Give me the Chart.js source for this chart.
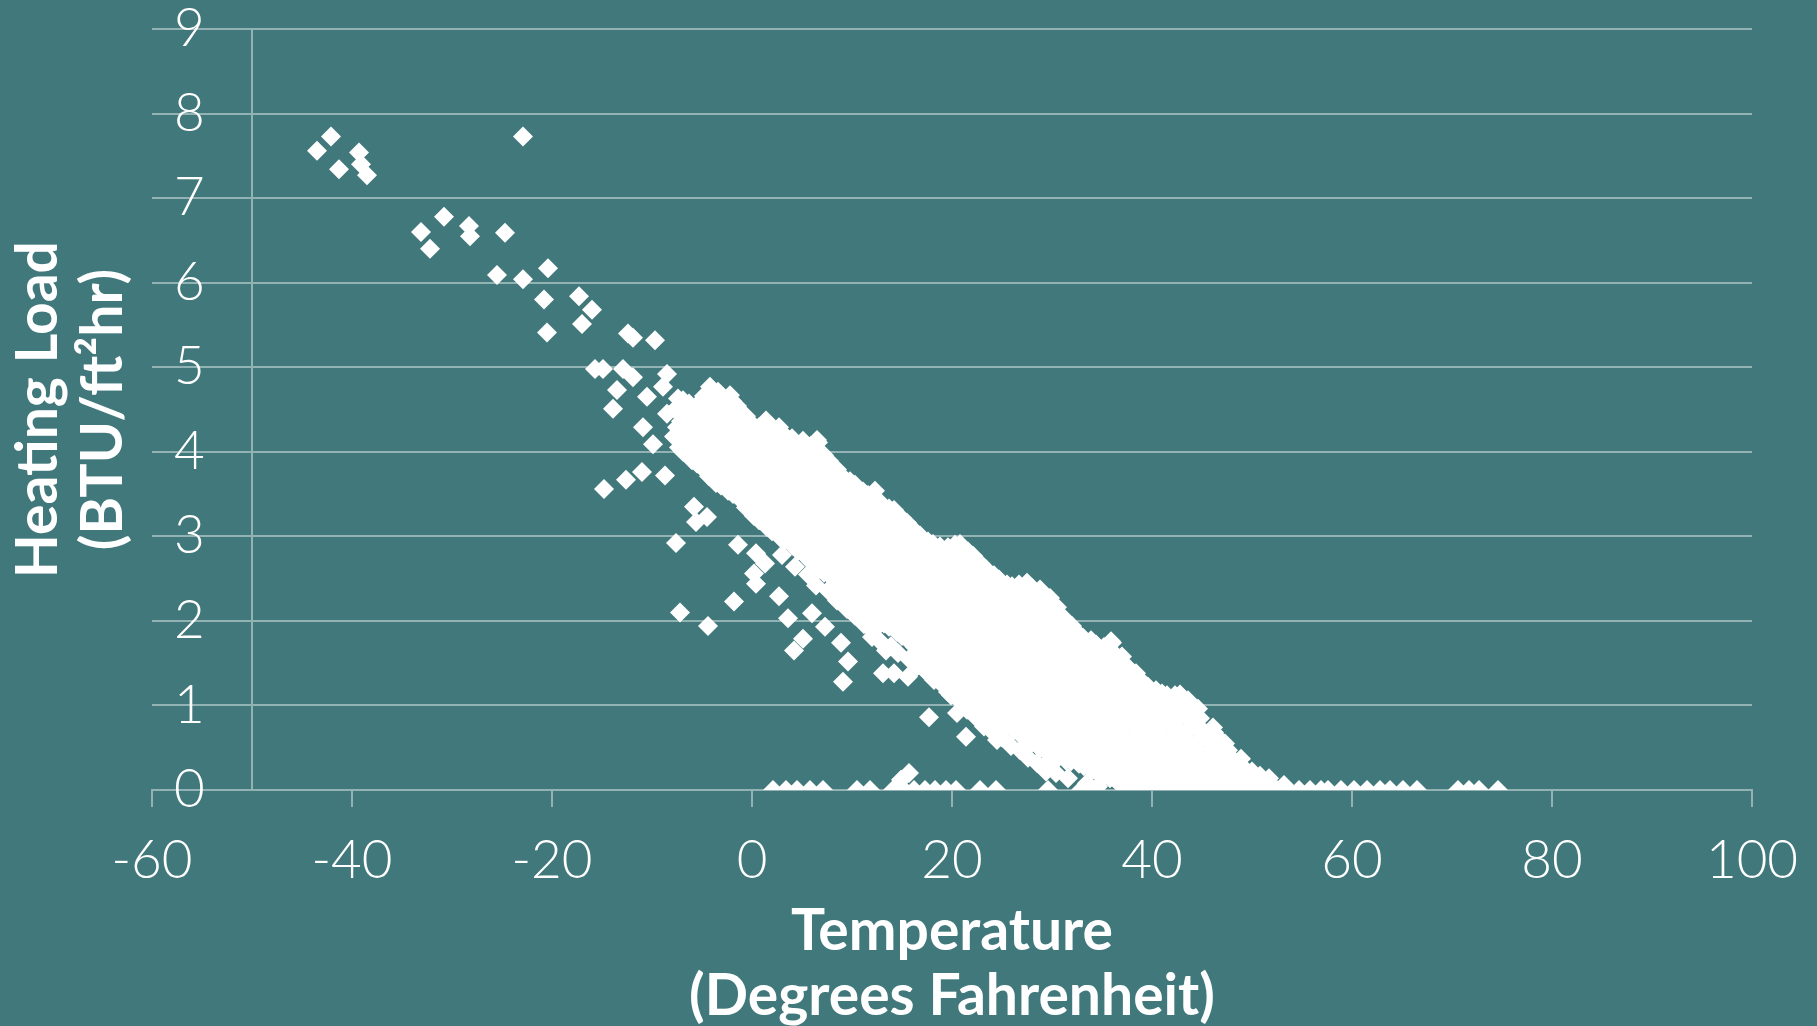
<!DOCTYPE html>
<html><head><meta charset="utf-8">
<script src="https://cdn.jsdelivr.net/npm/chart.js@4.4.0/dist/chart.umd.min.js"></script>
<style>
html,body{margin:0;padding:0;background:#41787B;overflow:hidden;}
#wrap{position:relative;width:1817px;height:1026px;}
canvas{display:block;}
</style></head><body>
<div id="wrap"><canvas id="c" width="1817" height="1026"></canvas></div>
<script>
const xTickValues = [-60,-40,-20,0,20,40,60,80,100];
const yTickValues = [0,1,2,3,4,5,6,7,8,9];
const xTitleLines = ['Temperature','(Degrees Fahrenheit)'];
const yTitleLines = ['Heating Load','(BTU/ft²hr)'];

// [temperature °F, heating load BTU/ft²hr] — scattered points
const outlierPoints = [
[-42.1,7.73],[-43.5,7.56],[-39.3,7.54],[-41.3,7.34],[-39.1,7.40],[-38.5,7.27],[-22.9,7.73],
[-30.8,6.78],[-33.1,6.60],[-32.2,6.40],[-28.3,6.67],[-28.2,6.55],[-24.7,6.59],
[-25.5,6.09],[-22.9,6.04],[-20.4,6.17],[-20.8,5.80],[-20.5,5.41],[-17.3,5.84],[-16.0,5.68],[-17.0,5.51],
[-12.4,5.40],[-11.9,5.35],[-9.7,5.32],[-15.7,4.98],[-14.9,4.98],[-12.9,4.98],[-11.9,4.88],[-8.5,4.92],
[-13.5,4.73],[-13.9,4.51],[-10.5,4.65],[-8.9,4.77],[-10.9,4.29],[-9.9,4.09],[-6.9,4.61],[-8.5,4.45],[-7.5,4.29],[-4.2,4.77],[-4.9,4.49],[-6.9,4.06],
[-12.6,3.67],[-11.0,3.76],[-8.7,3.72],[-14.8,3.56],[-7.6,2.92],[-7.2,2.10],[-4.4,1.94],[-1.8,2.23],
[-5.8,3.35],[-4.5,3.23],[-5.6,3.17],[-1.4,2.90],[0.4,2.80],[1.3,2.68],[0.2,2.56],[0.4,2.44],[2.7,2.29],[3.6,2.03],
[4.2,1.65],[6.0,2.09],[5.1,1.79],[7.3,1.93],[8.9,1.74],[9.6,1.52],[9.1,1.28],[12.0,1.81],[13.4,1.65],[13.1,1.38],[14.2,1.38],
[15.6,1.34],[16.9,1.68],[17.7,0.86],[19.6,1.16],[20.5,0.91],[21.4,0.63],[23.2,0.75],[24.5,0.59],[29.4,0.31],[30.1,0.32],
[12.3,3.54],[1.4,4.35],[6.5,4.14]
];

// dense band of readings (first pass)
const bandPoints = [
[-7.3,4.05],[-7.8,4.18],[-7.1,4.36],[-7.7,4.5],[-7.4,4.63],
[-6.0,3.9],[-6.5,4.03],[-6.1,4.19],[-6.4,4.31],[-5.9,4.44],[-6.3,4.57],
[-4.8,3.79],[-5.2,3.94],[-4.9,4.11],[-5.3,4.22],[-4.7,4.37],[-5.1,4.53],[-4.8,4.66],
[-3.6,3.63],[-4.0,3.76],[-3.7,3.89],[-3.9,4.04],[-3.5,4.18],[-4.1,4.31],[-3.7,4.45],[-3.9,4.6],[-3.4,4.71],
[-2.4,3.54],[-2.8,3.69],[-2.5,3.83],[-2.7,3.95],[-2.3,4.11],[-2.9,4.24],[-2.5,4.39],[-2.6,4.56],[-2.2,4.67],
[-1.1,3.43],[-1.5,3.57],[-1.2,3.69],[-1.4,3.86],[-1.0,3.99],[-1.6,4.11],[-1.3,4.28],[-1.2,4.4],[-1.5,4.54],
[0.2,3.24],[-0.2,3.39],[0.1,3.51],[-0.1,3.67],[0.3,3.79],[-0.3,3.95],[0.0,4.07],[0.2,4.23],[-0.1,4.34],
[1.5,3.11],[1.1,3.27],[1.4,3.39],[1.2,3.56],[1.6,3.67],[1.0,3.83],[1.3,3.95],[1.5,4.11],[1.1,4.24],[1.4,4.37],
[2.8,2.99],[2.4,3.15],[2.7,3.27],[2.5,3.43],[2.9,3.55],[2.3,3.71],[2.6,3.83],[2.8,3.99],[2.4,4.13],[2.7,4.29],
[4.1,2.89],[3.7,3.04],[4.0,3.16],[3.8,3.32],[4.2,3.44],[3.6,3.61],[3.9,3.73],[4.1,3.89],[3.7,4.01],[4.0,4.16],
[5.4,2.76],[5.0,2.89],[5.3,3.05],[5.1,3.17],[5.5,3.33],[4.9,3.45],[5.2,3.61],[5.4,3.73],[5.0,3.89],[5.3,4.01],[5.1,4.13],
[6.7,2.61],[6.3,2.77],[6.6,2.89],[6.4,3.06],[6.8,3.18],[6.2,3.34],[6.5,3.46],[6.7,3.62],[6.3,3.74],[6.6,3.9],[6.4,4.02],[6.6,4.11],
[8.0,2.51],[7.6,2.63],[7.9,2.79],[7.7,2.91],[8.1,3.07],[7.5,3.19],[7.8,3.35],[8.0,3.47],[7.6,3.63],[7.9,3.75],[7.7,3.89],
[9.3,2.35],[8.9,2.51],[9.2,2.63],[9.0,2.79],[9.4,2.91],[8.8,3.07],[9.1,3.19],[9.3,3.35],[8.9,3.47],[9.2,3.61],[9.0,3.71],
[10.6,2.23],[10.2,2.35],[10.5,2.51],[10.3,2.63],[10.7,2.79],[10.1,2.91],[10.4,3.07],[10.6,3.19],[10.2,3.35],[10.5,3.47],[10.3,3.61],
[11.9,2.07],[11.5,2.23],[11.8,2.35],[11.6,2.51],[12.0,2.63],[11.4,2.79],[11.7,2.91],[11.9,3.07],[11.5,3.19],[11.8,3.35],[11.6,3.49],
[13.2,1.97],[12.8,2.11],[13.1,2.23],[12.9,2.39],[13.3,2.51],[12.7,2.67],[13.0,2.79],[13.2,2.95],[12.8,3.07],[13.1,3.23],[12.9,3.39],
[14.5,1.87],[14.1,2.01],[14.4,2.13],[14.2,2.29],[14.6,2.41],[14.0,2.57],[14.3,2.69],[14.5,2.85],[14.1,2.97],[14.4,3.13],[14.2,3.31],
[15.8,1.75],[15.4,1.87],[15.7,2.03],[15.5,2.15],[15.9,2.31],[15.3,2.43],[15.6,2.59],[15.8,2.71],[15.4,2.87],[15.7,2.99],[15.5,3.16],
[17.1,1.61],[16.7,1.77],[17.0,1.89],[16.8,2.05],[17.2,2.17],[16.6,2.33],[16.9,2.45],[17.1,2.61],[16.7,2.73],[17.0,2.89],[16.8,3.01],
[18.4,1.49],[18.0,1.61],[18.3,1.77],[18.1,1.89],[18.5,2.05],[17.9,2.17],[18.2,2.33],[18.4,2.45],[18.0,2.61],[18.3,2.73],[18.1,2.91],
[19.7,1.31],[19.3,1.47],[19.6,1.59],[19.4,1.75],[19.8,1.87],[19.2,2.03],[19.5,2.15],[19.7,2.31],[19.3,2.43],[19.6,2.59],[19.4,2.71],[19.6,2.87],
[21.0,1.21],[20.6,1.33],[20.9,1.49],[20.7,1.61],[21.1,1.77],[20.5,1.89],[20.8,2.05],[21.0,2.17],[20.6,2.33],[20.9,2.45],[20.7,2.61],[21.0,2.73],[20.8,2.91],
[22.3,1.05],[21.9,1.21],[22.2,1.33],[22.0,1.49],[22.4,1.61],[21.8,1.77],[22.1,1.89],[22.3,2.05],[21.9,2.17],[22.2,2.33],[22.0,2.45],[22.3,2.61],[22.1,2.77],
[23.6,0.93],[23.2,1.05],[23.5,1.21],[23.3,1.33],[23.7,1.49],[23.1,1.61],[23.4,1.77],[23.6,1.89],[23.2,2.05],[23.5,2.17],[23.3,2.33],[23.5,2.45],[23.4,2.61],
[24.9,0.79],[24.5,0.95],[24.8,1.07],[24.6,1.23],[25.0,1.35],[24.4,1.51],[24.7,1.63],[24.9,1.79],[24.5,1.91],[24.8,2.07],[24.6,2.19],[24.8,2.35],[24.7,2.49],
[26.2,0.71],[25.8,0.87],[26.1,0.99],[25.9,1.15],[26.3,1.27],[25.7,1.43],[26.0,1.55],[26.2,1.71],[25.8,1.83],[26.1,1.99],[25.9,2.11],[26.1,2.27],[26.0,2.41],
[27.5,0.61],[27.1,0.73],[27.4,0.89],[27.2,1.01],[27.6,1.17],[27.0,1.29],[27.3,1.45],[27.5,1.57],[27.1,1.73],[27.4,1.85],[27.2,2.01],[27.4,2.13],[27.3,2.31],[27.5,2.45],
[28.8,0.49],[28.4,0.65],[28.7,0.77],[28.5,0.93],[28.9,1.05],[28.3,1.21],[28.6,1.33],[28.8,1.49],[28.4,1.61],[28.7,1.77],[28.5,1.89],[28.7,2.05],[28.6,2.17],[28.8,2.37],
[30.1,0.43],[29.7,0.55],[30.0,0.71],[29.8,0.83],[30.2,0.99],[29.6,1.11],[29.9,1.27],[30.1,1.39],[29.7,1.55],[30.0,1.67],[29.8,1.83],[30.0,1.95],[29.9,2.11],[29.8,2.27],
[31.4,0.35],[31.0,0.51],[31.3,0.63],[31.1,0.79],[31.5,0.91],[30.9,1.07],[31.2,1.19],[31.4,1.35],[31.0,1.47],[31.3,1.63],[31.1,1.75],[31.3,1.91],[31.2,2.03],
[32.7,0.31],[32.3,0.43],[32.6,0.59],[32.4,0.71],[32.8,0.87],[32.2,0.99],[32.5,1.15],[32.7,1.27],[32.3,1.43],[32.6,1.55],[32.4,1.71],[32.6,1.85],
[34.0,0.23],[33.6,0.39],[33.9,0.51],[33.7,0.67],[34.1,0.79],[33.5,0.95],[33.8,1.07],[34.0,1.23],[33.6,1.35],[33.9,1.51],[33.7,1.63],[33.9,1.77],
[35.3,0.17],[34.9,0.29],[35.2,0.45],[35.0,0.57],[35.4,0.73],[34.8,0.85],[35.1,1.01],[35.3,1.13],[34.9,1.29],[35.2,1.41],[35.0,1.57],[35.2,1.69],
[36.6,0.09],[36.2,0.25],[36.5,0.37],[36.3,0.53],[36.7,0.65],[36.1,0.81],[36.4,0.93],[36.6,1.09],[36.2,1.21],[36.5,1.37],[36.3,1.49],[36.1,1.63],[36.0,1.74],
[37.9,0.05],[37.5,0.19],[37.8,0.31],[37.6,0.47],[38.0,0.59],[37.4,0.75],[37.7,0.87],[37.9,1.03],[37.5,1.15],[37.8,1.31],[37.6,1.45],
[39.2,0.03],[38.8,0.15],[39.1,0.27],[38.9,0.43],[39.3,0.55],[38.7,0.71],[39.0,0.83],[39.2,0.99],[38.8,1.11],[39.1,1.27],
[40.5,0.07],[40.1,0.23],[40.4,0.35],[40.2,0.51],[40.6,0.63],[40.0,0.79],[40.3,0.91],[40.5,1.07],[40.4,1.18],
[41.8,0.05],[41.4,0.21],[41.7,0.33],[41.5,0.49],[41.9,0.61],[41.3,0.77],[41.6,0.89],[41.8,1.03],[41.5,1.12],
[43.1,0.04],[42.7,0.17],[43.0,0.33],[42.8,0.45],[43.2,0.61],[42.6,0.73],[42.9,0.89],[43.0,1.0],[42.8,1.13],
[44.4,0.04],[44.0,0.17],[44.3,0.29],[44.1,0.45],[44.5,0.57],[43.9,0.73],[44.2,0.85],[44.6,0.96],
[45.7,0.03],[45.3,0.15],[45.6,0.29],[45.4,0.41],[45.8,0.57],[45.2,0.69],[46.1,0.74],
[47.0,0.02],[46.6,0.15],[46.9,0.26],[46.7,0.41],[47.1,0.53],[46.5,0.63],
[48.3,0.02],[47.9,0.13],[48.2,0.27],[48.0,0.37],[47.6,0.47],
[49.6,0.02],[49.2,0.11],[49.5,0.21],[49.0,0.28],
[50.9,0.02],[50.5,0.09],[50.8,0.17],
[52.2,0.02],[51.7,0.14],[53.2,0.06]
];

// dense band of readings (second pass, between the first-pass readings)
const bandPoints2 = [
[-6.9,4.0],[-6.7,4.12],[-7.0,4.26],[-6.8,4.4],[-6.9,4.53],
[-5.5,3.86],[-5.7,3.99],[-5.6,4.14],[-5.4,4.27],[-5.7,4.41],[-5.5,4.55],
[-4.3,3.71],[-4.5,3.84],[-4.4,3.98],[-4.2,4.12],[-4.5,4.26],[-4.3,4.4],[-4.4,4.54],[-4.6,4.66],
[-3.1,3.6],[-3.3,3.72],[-3.2,3.86],[-3.0,4.0],[-3.3,4.14],[-3.1,4.28],[-3.2,4.42],[-3.0,4.56],[-3.2,4.68],
[-1.9,3.5],[-2.1,3.62],[-2.0,3.76],[-1.8,3.9],[-2.1,4.04],[-1.9,4.18],[-2.0,4.32],[-1.8,4.46],[-2.0,4.6],
[-0.6,3.34],[-0.8,3.46],[-0.7,3.6],[-0.5,3.74],[-0.8,3.88],[-0.6,4.02],[-0.7,4.16],[-0.5,4.3],[-0.6,4.42],
[0.7,3.19],[0.5,3.31],[0.6,3.45],[0.8,3.59],[0.5,3.73],[0.7,3.87],[0.6,4.01],[0.8,4.15],[0.7,4.29],
[2.0,3.06],[1.8,3.18],[1.9,3.32],[2.1,3.46],[1.8,3.6],[2.0,3.74],[1.9,3.88],[2.1,4.02],[2.0,4.16],[1.9,4.3],
[3.3,2.95],[3.1,3.08],[3.2,3.22],[3.4,3.36],[3.1,3.5],[3.3,3.64],[3.2,3.78],[3.4,3.92],[3.3,4.06],[3.2,4.2],
[4.6,2.83],[4.4,2.96],[4.5,3.1],[4.7,3.24],[4.4,3.38],[4.6,3.52],[4.5,3.66],[4.7,3.8],[4.6,3.94],[4.5,4.08],
[5.9,2.7],[5.7,2.83],[5.8,2.97],[6.0,3.11],[5.7,3.25],[5.9,3.39],[5.8,3.53],[6.0,3.67],[5.9,3.81],[5.8,3.95],[5.9,4.07],
[7.2,2.57],[7.0,2.7],[7.1,2.84],[7.3,2.98],[7.0,3.12],[7.2,3.26],[7.1,3.4],[7.3,3.54],[7.2,3.68],[7.1,3.82],[7.2,3.96],
[8.5,2.44],[8.3,2.57],[8.4,2.71],[8.6,2.85],[8.3,2.99],[8.5,3.13],[8.4,3.27],[8.6,3.41],[8.5,3.55],[8.4,3.68],[8.5,3.79],
[9.8,2.3],[9.6,2.43],[9.7,2.57],[9.9,2.71],[9.6,2.85],[9.8,2.99],[9.7,3.13],[9.9,3.27],[9.8,3.41],[9.7,3.55],[9.8,3.65],
[11.1,2.16],[10.9,2.29],[11.0,2.43],[11.2,2.57],[10.9,2.71],[11.1,2.85],[11.0,2.99],[11.2,3.13],[11.1,3.27],[11.0,3.41],[11.1,3.53],
[12.4,2.03],[12.2,2.16],[12.3,2.3],[12.5,2.44],[12.2,2.58],[12.4,2.72],[12.3,2.86],[12.5,3.0],[12.4,3.14],[12.3,3.28],[12.4,3.42],
[13.7,1.93],[13.5,2.06],[13.6,2.2],[13.8,2.34],[13.5,2.48],[13.7,2.62],[13.6,2.76],[13.8,2.9],[13.7,3.04],[13.6,3.18],[13.7,3.33],
[15.0,1.82],[14.8,1.95],[14.9,2.09],[15.1,2.23],[14.8,2.37],[15.0,2.51],[14.9,2.65],[15.1,2.79],[15.0,2.93],[14.9,3.07],[15.0,3.21],
[16.3,1.69],[16.1,1.82],[16.2,1.96],[16.4,2.1],[16.1,2.24],[16.3,2.38],[16.2,2.52],[16.4,2.66],[16.3,2.8],[16.2,2.94],[16.3,3.06],
[17.6,1.56],[17.4,1.69],[17.5,1.83],[17.7,1.97],[17.4,2.11],[17.6,2.25],[17.5,2.39],[17.7,2.53],[17.6,2.67],[17.5,2.81],[17.6,2.94],
[18.9,1.41],[18.7,1.54],[18.8,1.68],[19.0,1.82],[18.7,1.96],[18.9,2.1],[18.8,2.24],[19.0,2.38],[18.9,2.52],[18.8,2.66],[18.9,2.8],[18.8,2.88],
[20.2,1.27],[20.0,1.4],[20.1,1.54],[20.3,1.68],[20.0,1.82],[20.2,1.96],[20.1,2.1],[20.3,2.24],[20.2,2.38],[20.1,2.52],[20.2,2.66],[20.1,2.8],[20.3,2.9],
[21.5,1.14],[21.3,1.27],[21.4,1.41],[21.6,1.55],[21.3,1.69],[21.5,1.83],[21.4,1.97],[21.6,2.11],[21.5,2.25],[21.4,2.39],[21.5,2.53],[21.4,2.67],[21.6,2.82],
[22.8,1.0],[22.6,1.13],[22.7,1.27],[22.9,1.41],[22.6,1.55],[22.8,1.69],[22.7,1.83],[22.9,1.97],[22.8,2.11],[22.7,2.25],[22.8,2.39],[22.7,2.53],[22.9,2.67],
[24.1,0.87],[23.9,1.0],[24.0,1.14],[24.2,1.28],[23.9,1.42],[24.1,1.56],[24.0,1.7],[24.2,1.84],[24.1,1.98],[24.0,2.12],[24.1,2.26],[24.0,2.4],[24.2,2.54],
[25.4,0.76],[25.2,0.89],[25.3,1.03],[25.5,1.17],[25.2,1.31],[25.4,1.45],[25.3,1.59],[25.5,1.73],[25.4,1.87],[25.3,2.01],[25.4,2.15],[25.3,2.29],[25.5,2.43],
[26.7,0.67],[26.5,0.8],[26.6,0.94],[26.8,1.08],[26.5,1.22],[26.7,1.36],[26.6,1.5],[26.8,1.64],[26.7,1.78],[26.6,1.92],[26.7,2.06],[26.6,2.2],[26.8,2.34],[26.7,2.43],
[28.0,0.56],[27.8,0.69],[27.9,0.83],[28.1,0.97],[27.8,1.11],[28.0,1.25],[27.9,1.39],[28.1,1.53],[28.0,1.67],[27.9,1.81],[28.0,1.95],[27.9,2.09],[28.1,2.23],[28.0,2.39],
[29.3,0.47],[29.1,0.6],[29.2,0.74],[29.4,0.88],[29.1,1.02],[29.3,1.16],[29.2,1.3],[29.4,1.44],[29.3,1.58],[29.2,1.72],[29.3,1.86],[29.2,2.0],[29.4,2.14],[29.3,2.3],
[30.6,0.4],[30.4,0.53],[30.5,0.67],[30.7,0.81],[30.4,0.95],[30.6,1.09],[30.5,1.23],[30.7,1.37],[30.6,1.51],[30.5,1.65],[30.6,1.79],[30.5,1.93],[30.7,2.07],[30.5,2.16],
[31.9,0.34],[31.7,0.47],[31.8,0.61],[32.0,0.75],[31.7,0.89],[31.9,1.03],[31.8,1.17],[32.0,1.31],[31.9,1.45],[31.8,1.59],[31.9,1.73],[31.8,1.87],[32.0,1.94],
[33.2,0.28],[33.0,0.41],[33.1,0.55],[33.3,0.69],[33.0,0.83],[33.2,0.97],[33.1,1.11],[33.3,1.25],[33.2,1.39],[33.1,1.53],[33.2,1.67],[33.1,1.8],
[34.5,0.21],[34.3,0.34],[34.4,0.48],[34.6,0.62],[34.3,0.76],[34.5,0.9],[34.4,1.04],[34.6,1.18],[34.5,1.32],[34.4,1.46],[34.5,1.6],[34.4,1.72],
[35.8,0.14],[35.6,0.27],[35.7,0.41],[35.9,0.55],[35.6,0.69],[35.8,0.83],[35.7,0.97],[35.9,1.11],[35.8,1.25],[35.7,1.39],[35.8,1.53],[35.7,1.66],[35.9,1.76],
[37.1,0.07],[36.9,0.2],[37.0,0.34],[37.2,0.48],[36.9,0.62],[37.1,0.76],[37.0,0.9],[37.2,1.04],[37.1,1.18],[37.0,1.32],[37.1,1.46],[37.0,1.58],
[38.4,0.04],[38.2,0.16],[38.3,0.3],[38.5,0.44],[38.2,0.58],[38.4,0.72],[38.3,0.86],[38.5,1.0],[38.4,1.14],[38.3,1.28],[38.4,1.38],
[39.7,0.05],[39.5,0.17],[39.6,0.31],[39.8,0.45],[39.5,0.59],[39.7,0.73],[39.6,0.87],[39.8,1.01],[39.7,1.15],[39.6,1.22],
[41.0,0.06],[40.8,0.18],[40.9,0.32],[41.1,0.46],[40.8,0.6],[41.0,0.74],[40.9,0.88],[41.1,1.02],[41.0,1.14],
[42.3,0.05],[42.1,0.17],[42.2,0.31],[42.4,0.45],[42.1,0.59],[42.3,0.73],[42.2,0.87],[42.4,1.01],[42.3,1.12],
[43.6,0.04],[43.4,0.16],[43.5,0.3],[43.7,0.44],[43.4,0.58],[43.6,0.72],[43.5,0.86],[43.7,0.99],[43.6,1.06],
[44.9,0.03],[44.7,0.15],[44.8,0.29],[45.0,0.43],[44.7,0.57],[44.9,0.71],[44.8,0.85],
[46.2,0.02],[46.0,0.14],[46.1,0.28],[46.3,0.42],[46.0,0.56],[46.2,0.68],
[47.5,0.02],[47.3,0.14],[47.4,0.28],[47.6,0.42],[47.3,0.55],
[48.8,0.02],[48.6,0.14],[48.7,0.26],[48.9,0.37],
[50.1,0.02],[49.9,0.12],[50.0,0.22]
];

// ragged lower fringe of the band
const fringePoints = [
[3.0,2.78],[4.3,2.64],[5.6,2.55],[6.4,2.42],[7.6,2.36],[8.5,2.24],[9.5,2.14],[10.3,2.06],[11.2,1.96],[12.1,1.88],
[12.8,1.76],[13.9,1.7],[14.6,1.62],[15.7,1.55],[16.5,1.46],[17.4,1.4],[18.2,1.3],[19.1,1.24],[19.9,1.12],[20.8,1.05],
[21.5,0.95],[22.4,0.86],[23.3,0.8],[24.1,0.68],[25.0,0.62],[25.9,0.52],[26.8,0.47],[27.6,0.38],[28.5,0.32],[29.4,0.22],
[30.4,0.2],[31.6,0.14],[33.5,0.08],[34.6,0.04]
];

// readings with zero (or near-zero) load
const zeroPoints = [
[2.1,0],[3.4,0],[4.5,0],[5.8,0],[7.1,0],[10.5,0],[11.8,0],[14.1,0],[14.9,0.12],[15.2,0],[15.7,0.2],[16.2,0],[17.3,0],
[18.3,0],[19.4,0],[20.4,0],[22.8,0],[24.4,0],[29.6,0],[32.9,0],
[38.2,0],[39.5,0],[40.6,0],[41.7,0],[42.6,0],[43.8,0],[44.9,0],[45.9,0],[47.2,0],[48.4,0],[49.5,0],[50.6,0],[51.4,0],
[52.5,0],[53.6,0],[54.7,0],[55.8,0],[56.9,0],[57.6,0],[58.9,0],[60.2,0],[61.5,0],[62.8,0],[63.8,0],[65.1,0],[66.5,0],
[70.6,0],[71.7,0],[72.7,0],[74.6,0]
];

const GRID = '#93B2B3';
const FAMILY = 'Lato, "Open Sans", "DejaVu Sans", sans-serif';
const toXY = arr => arr.map(p => ({x: p[0], y: p[1]}));

const ds = (pts) => ({
  data: toXY(pts), yAxisID: 'y', xAxisID: 'x',
  pointStyle: 'rectRot', pointRadius: 10, pointHoverRadius: 10,
  pointBackgroundColor: '#FFFFFF', pointBorderWidth: 0, pointBorderColor: '#FFFFFF', showLine: false
});

new Chart(document.getElementById('c'), {
  type: 'scatter',
  data: { datasets: [ds(outlierPoints), ds(bandPoints), ds(bandPoints2), ds(fringePoints), ds(zeroPoints)] },
  options: {
    responsive: false, animation: false, events: [],
    layout: { padding: { left: 0, right: 65, top: 29, bottom: 0 } },
    plugins: { legend: { display: false }, tooltip: { enabled: false } },
    scales: {
      x: {
        type: 'linear', position: 'bottom', min: -60, max: 100,
        afterBuildTicks: s => { s.ticks = xTickValues.map(v => ({ value: v })); },
        afterFit: s => { s.paddingLeft = 0; s.paddingRight = 0; s.height = 236; },
        grid: { drawOnChartArea: false, drawTicks: true, tickLength: 17, color: GRID, lineWidth: 2 },
        border: { display: true, color: GRID, width: 2 },
        ticks: { color: '#FFFFFF', font: { family: FAMILY, size: 53, weight: 300 }, padding: 22, maxRotation: 0, autoSkip: false },
        title: { display: true, text: xTitleLines, color: '#FFFFFF',
                 font: { family: FAMILY, size: 57, weight: 'bold', lineHeight: 1.14 }, padding: { top: 0, bottom: -3 } }
      },
      y: {
        type: 'linear', position: 'left', min: 0, max: 9,
        afterBuildTicks: s => { s.ticks = yTickValues.map(v => ({ value: v })); },
        afterFit: s => { s.paddingTop = 0; s.paddingBottom = 0; s.width = 152; },
        grid: { color: GRID, lineWidth: 2, drawTicks: false },
        border: { display: false },
        ticks: { mirror: true, padding: 22, color: '#FFFFFF', font: { family: FAMILY, size: 53, weight: 300 } },
        title: { display: true, text: yTitleLines, color: '#FFFFFF',
                 font: { family: FAMILY, size: 57, weight: 'bold', lineHeight: 1.14 }, padding: { top: 6, bottom: 0 } }
      },
      y2: {
        type: 'linear', axis: 'y', position: { x: -50 }, min: 0, max: 9,
        grid: { display: false, drawTicks: false },
        border: { display: true, color: GRID, width: 2 },
        ticks: { display: false }
      }
    }
  }
});
</script>
</body></html>
